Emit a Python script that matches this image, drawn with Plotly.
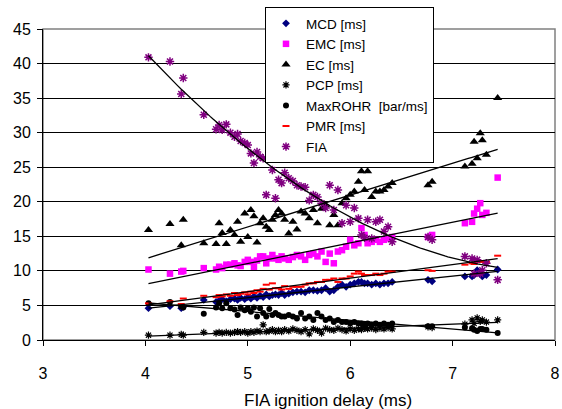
import numpy as np
import plotly.graph_objects as go

# ---- data ----
fia_delay = [4.03, 4.24, 4.35, 4.37, 4.57, 4.69, 4.72, 4.75, 4.79, 4.83, 4.87, 4.90, 4.93, 4.97,
             5.00, 5.03, 5.06, 5.09, 5.12, 5.15, 5.18, 5.21, 5.24, 5.27, 5.30, 5.33, 5.36,
             5.40, 5.44, 5.48, 5.52, 5.56, 5.60, 5.64, 5.68, 5.72, 5.76, 5.80, 5.84, 5.88, 5.92, 5.96,
             6.00, 6.04, 6.08, 6.11, 6.14, 6.17, 6.21, 6.25, 6.29, 6.33, 6.37, 6.41,
             6.76, 6.80, 7.12, 7.19, 7.21, 7.24, 7.27, 7.29, 7.33, 7.44]

mcd = [4.6, 4.9, 4.6, 4.8, 5.8, 5.5, 5.7, 5.9, 5.6, 5.9, 6.0, 5.8, 6.1, 5.9,
       6.2, 6.0, 6.3, 6.1, 6.4, 6.2, 6.6, 6.3, 6.5, 6.6, 6.5, 6.8, 6.5,
       6.7, 6.9, 7.0, 7.0, 6.9, 7.2, 7.2, 7.1, 7.2, 7.5, 7.0, 7.2, 7.7, 8.0, 7.7,
       8.0, 8.2, 8.4, 8.4, 8.2, 8.2, 8.0, 8.2, 8.0, 8.2, 8.2, 8.4,
       8.7, 8.5, 9.2, 9.2, 9.4, 10.1, 9.6, 9.2, 9.4, 10.2]

emc = [10.2, 9.6, 9.9, 10.0, 10.4, 10.2, 10.6, 10.4, 10.9, 10.9, 11.1, 10.8, 10.7, 11.3,
       11.6, 11.3, 10.6, 11.5, 12.1, 12.1, 11.1, 11.8, 12.3, 11.8, 11.6, 12.1, 11.8,
       11.6, 12.0, 12.3, 12.1, 11.6, 12.3, 12.5, 12.1, 12.8, 11.3, 12.5, 11.1, 12.8, 13.0, 13.5,
       14.5, 13.7, 14.0, 16.2, 15.2, 14.0, 14.2, 14.5, 14.2, 14.5, 14.7, 14.9,
       14.9, 15.2, 16.9, 17.1, 18.3, 19.0, 19.8, 18.1, 18.4, 23.5]

ec = [15.9, 16.8, 13.7, 17.4, 14.0, 13.9, 16.9, 15.5, 13.9, 15.9, 15.2, 17.1, 14.2, 18.3,
      14.9, 18.8, 17.9, 14.1, 16.9, 17.6, 16.4, 15.9, 17.4, 18.1, 18.8, 18.3, 17.4,
      15.4, 17.1, 16.0, 18.6, 18.3, 17.6, 18.8, 16.9, 19.0, 19.5, 16.6, 18.1, 16.6, 19.8, 20.5,
      21.0, 21.5, 22.9, 24.4, 21.7, 24.4, 20.7, 21.5, 21.5, 21.7, 22.2, 22.7,
      22.4, 22.9, 25.1, 25.5, 28.7, 26.3, 29.9, 28.9, 26.8, 35.0]

pcp = [0.7, 0.7, 0.8, 0.7, 1.1, 1.0, 1.1, 1.0, 1.1, 1.0, 1.1, 1.2, 1.1, 1.2,
       1.0, 1.2, 1.1, 1.3, 1.2, 2.2, 1.2, 1.3, 1.5, 1.2, 1.4, 1.2, 1.5,
       1.3, 1.6, 1.4, 1.2, 1.5, 0.9, 1.6, 1.4, 1.0, 1.7, 1.5, 1.4, 1.7, 1.5, 1.3,
       1.6, 1.4, 1.6, 1.5, 1.7, 1.6, 1.7, 1.5, 1.7, 1.6, 1.8, 1.6,
       1.9, 1.8, 2.3, 2.9, 2.4, 3.2, 2.7, 2.9, 2.6, 2.9]

maxrohr = [5.3, 5.5, 4.9, 4.7, 3.8, 4.7, 5.3, 4.6, 5.3, 4.6, 4.4, 3.6, 4.7, 4.3,
           4.6, 4.1, 4.7, 3.4, 4.6, 3.9, 3.4, 4.5, 3.6, 3.9, 3.6, 3.4, 3.4,
           3.6, 3.4, 3.1, 3.9, 3.1, 3.4, 2.9, 3.9, 3.4, 2.9, 3.1, 2.6, 2.9, 2.6, 2.6,
           2.4, 2.6, 2.4, 2.4, 2.2, 2.4, 2.2, 2.4, 2.2, 2.4, 2.2, 2.4,
           2.0, 2.0, 1.8, 1.7, 1.5, 1.3, 1.6, 1.6, 1.5, 1.0]

pmr = [5.3, 5.6, 5.2, 6.0, 6.4, 6.2, 6.5, 6.3, 6.6, 6.4, 6.8, 6.5, 6.7, 6.9,
       6.6, 7.0, 6.8, 7.2, 7.0, 7.4, 8.0, 7.3, 8.2, 7.5, 7.5, 7.3, 7.8,
       7.4, 7.7, 7.7, 7.7, 8.0, 8.2, 8.2, 8.4, 8.4, 8.7, 8.7, 8.9, 8.4, 8.9, 8.9,
       9.2, 9.6, 9.9, 9.6, 9.4, 9.4, 9.4, 9.6, 9.4, 9.6, 9.9, 9.9,
       10.1, 10.0, 10.9, 11.1, 11.0, 11.3, 11.4, 11.3, 11.3, 12.2]

fia = [40.9, 40.3, 35.6, 37.9, 32.6, 30.5, 31.1, 30.4, 31.2, 30.0, 29.4, 29.8, 28.8, 28.5,
       28.2, 27.0, 25.6, 27.2, 26.5, 26.3, 21.0, 26.4, 24.6, 20.5, 23.2, 22.7, 24.2,
       23.4, 23.0, 22.4, 22.2, 22.1, 20.2, 21.0, 20.7, 19.8, 19.1, 22.4, 18.8, 21.7, 16.9, 19.5,
       17.1, 19.1, 17.6, 15.2, 14.8, 17.4, 14.7, 17.1, 17.4, 15.7, 16.4, 14.2,
       14.9, 14.5, 12.1, 11.8, 9.6, 11.6, 9.6, 10.1, 11.1, 8.7]

x_ticks = [3, 4, 5, 6, 7, 8]
y_ticks = [0, 5, 10, 15, 20, 25, 30, 35, 40, 45]

# ---- figure ----
W, H = 562, 409
ML, MR, MT, MB = 43, 7, 29, 69
FONT = "Liberation Sans, Arial, sans-serif"

series = [
    ("MCD [ms]", mcd, dict(symbol="diamond", size=6, color="#000080"), 1),
    ("EMC [ms]", emc, dict(symbol="square", size=6.5, color="#FF00FF"), 1),
    ("EC [ms]", ec, dict(symbol="triangle-up", size=8, color="#000000"), 1),
    ("PCP [ms]", pcp, dict(symbol="asterisk-open", size=6, color="#000000",
                           line=dict(width=1.2, color="#000000")), 1),
    ("MaxROHR\u00a0 [bar/ms]", maxrohr, dict(symbol="circle", size=6, color="#000000"), 1),
    ("PMR [ms]", pmr, dict(symbol="line-ew-open", size=5, color="#FF0000",
                           line=dict(width=2, color="#FF0000")), 1),
    ("FIA", fia, dict(symbol="asterisk-open", size=7, color="#800080",
                      line=dict(width=1.5, color="#800080")), 2),
]

fig = go.Figure()
xd = np.array(fia_delay)
for name, ys, mk, deg in series:
    fig.add_trace(go.Scatter(x=fia_delay, y=ys, mode="markers", name=name,
                             marker=mk, showlegend=True))

xs = np.linspace(xd.min(), xd.max(), 120)
for name, ys, mk, deg in series:
    coef = np.polyfit(xd, np.array(ys), deg)
    fig.add_trace(go.Scatter(x=xs, y=np.polyval(coef, xs), mode="lines",
                             line=dict(color="#000000", width=1.3),
                             showlegend=False, hoverinfo="skip"))

pw = W - ML - MR
ph = H - MT - MB

fig.update_layout(
    width=W, height=H,
    margin=dict(l=ML, r=MR, t=MT, b=MB, autoexpand=False),
    paper_bgcolor="white", plot_bgcolor="white",
    font=dict(family=FONT, color="#000000"),
    showlegend=True,
    legend=dict(x=(265 - ML) / pw, y=(H - MB - 7) / ph, xanchor="left", yanchor="top",
                bgcolor="white", bordercolor="#000000", borderwidth=1,
                font=dict(family=FONT, size=13.5, color="#000000"),
                itemwidth=30, tracegroupgap=0),
    xaxis=dict(range=[3, 8], tickvals=x_ticks, showgrid=False, zeroline=False,
               showline=True, linecolor="#000000", linewidth=1,
               ticks="outside", ticklen=5, tickcolor="#000000",
               tickfont=dict(family=FONT, size=16, color="#000000"),
               ticklabelstandoff=14, automargin=False, ticklabeloverflow="allow"),
    yaxis=dict(range=[0, 45], tickvals=y_ticks, showgrid=True, gridcolor="#000000",
               gridwidth=1, zeroline=False,
               showline=True, linecolor="#000000", linewidth=1,
               ticks="outside", ticklen=5, tickcolor="#000000",
               tickfont=dict(family=FONT, size=16, color="#000000"),
               ticklabelstandoff=3, automargin=False, ticklabeloverflow="allow"),
    shapes=[dict(type="rect", xref="paper", yref="paper", x0=0, x1=1, y0=0, y1=1,
                 line=dict(color="#808080", width=1.5), layer="below")],
    annotations=[dict(text="FIA ignition delay (ms)", xref="paper", yref="paper",
                      x=(328 - ML) / pw, y=(H - MB - 400) / ph,
                      xanchor="center", yanchor="middle", showarrow=False,
                      font=dict(family=FONT, size=17, color="#000000"))],
)

fig.write_html("out.html", config={"displayModeBar": False},
               post_script="document.body.style.margin='0';document.body.style.overflow='hidden';")
